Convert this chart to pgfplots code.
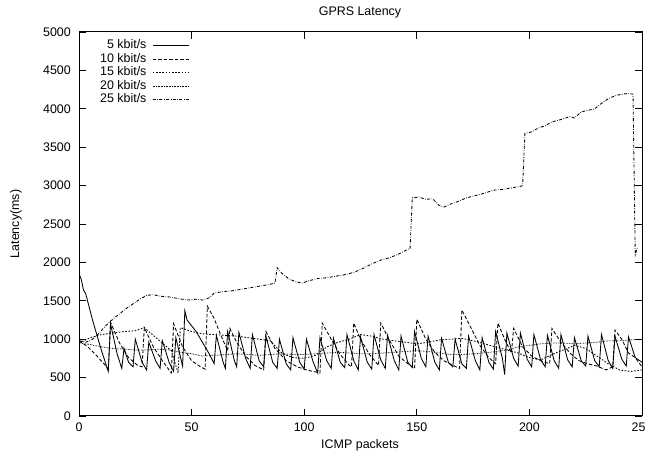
\documentclass[border=0pt]{standalone}
\usepackage{fontspec}
\setmainfont{Liberation Sans}
\usepackage{pgfplots}
\pgfplotsset{compat=1.18}
\begin{document}
\begin{tikzpicture}[x=1bp,y=1bp]
\useasboundingbox (0,0) rectangle (645,455);
\begin{axis}[
  at={(79bp,39bp)}, anchor=south west,
  width=563bp, height=384bp, scale only axis,
  xmin=0, xmax=250, ymin=0, ymax=5000,
  xtick={0,50,100,150,200,250},
  ytick={0,500,1000,1500,2000,2500,3000,3500,4000,4500,5000},
  xtick pos=both, ytick pos=both,
  tick align=inside, major tick length=7bp,
  axis line style={line width=1bp},
  tick style={line width=0.9bp, black},
  /pgf/number format/assume math mode=true,
  /pgf/number format/set thousands separator={},
  ticklabel style={font=\fontsize{12.5}{14}\selectfont},
  yticklabel style={anchor=east, inner sep=0pt, xshift=-8bp},
  xticklabel style={anchor=north, inner sep=0pt, yshift=-7bp},
  every axis plot/.append style={line width=0.85bp, black},
  legend plot pos=right,
  legend cell align=right,
  legend style={at={(0.03,0.988)}, anchor=north west, draw=none, fill=none,
    font=\fontsize{12.5}{13}\selectfont, row sep=0bp, column sep=5bp,
    nodes={inner sep=1bp, text height=9bp, text depth=2.5bp}},
  legend image code/.code={\draw[#1] (0bp,0bp) -- (36bp,0bp);},
]
% 5 kbit/s
\addplot[solid] coordinates {
(0,1850)(1,1780)(2,1640)(3,1590)(6,1250)(10,850)(13,580)(14,1200)(17,800)(19,620)
(20,880)(22,700)(24,640)(25,1000)(28,700)(30,600)(31,960)(34,720)(36,620)(37,980)
(40,700)(42,580)(43,1020)(46,650)(47,1370)(48,1250)(52,1100)(55,950)(58,800)(60,680)
(61,1050)(64,700)(65,620)(66,1100)(69,720)(70,640)(71,1090)(74,750)(76,620)(77,1060)
(80,720)(82,640)(83,1040)(86,700)(88,620)(89,1000)(92,680)(94,600)(95,1020)(98,700)
(100,610)(101,1000)(104,700)(106,560)(107,1020)(110,720)(112,620)(113,1010)(116,700)
(118,630)(119,1060)(122,720)(124,600)(125,1030)(128,700)(130,610)(131,1060)(134,730)
(136,620)(137,1050)(140,720)(142,600)(143,1040)(146,700)(148,630)(149,1100)(152,750)
(154,640)(155,1040)(158,700)(160,600)(161,1010)(164,700)(166,640)(167,1000)(170,680)
(172,620)(173,1040)(176,720)(178,600)(179,1020)(182,700)(184,610)(185,1100)(188,750)
(189,540)(190,1080)(193,750)(195,650)(196,1080)(199,740)(201,640)(202,1060)(205,730)
(207,640)(208,1050)(211,720)(213,620)(214,1060)(217,730)(219,640)(220,1020)(223,720)
(225,650)(226,1040)(229,720)(231,640)(232,1060)(235,720)(237,620)(238,1040)(241,740)
(243,650)(244,1030)(247,760)(250,700)
};
\addlegendentry{5 kbit/s}
% 10 kbit/s
\addplot[dash pattern=on 3.5bp off 2bp] coordinates {
(0,980)(4,900)(8,780)(12,650)(13,600)(14,1220)(18,950)(22,760)(26,660)(28,640)
(29,1150)(33,900)(37,720)(41,560)(42,1200)(46,900)(50,720)(54,640)(56,610)(57,1430)
(60,1270)(63,1050)(66,850)(67,1140)(70,960)(74,780)(78,660)(82,600)(83,1100)(87,880)
(92,720)(97,640)(101,600)(107,560)(108,1210)(112,1000)(116,800)(120,660)(121,640)
(122,1210)(125,1000)(129,800)(133,660)(134,1210)(138,980)(142,780)(146,680)(149,620)
(150,1260)(154,1000)(158,830)(162,720)(166,660)(169,620)(170,1380)(174,1150)(178,920)
(182,760)(185,680)(186,1210)(189,1000)(192,820)(193,1140)(197,900)(201,780)(205,720)
(209,680)(210,1140)(214,960)(218,820)(222,720)(226,680)(230,650)(234,600)(237,640)
(238,1120)(241,1000)(244,820)(247,760)(250,640)
};
\addlegendentry{10 kbit/s}
% 15 kbit/s
\addplot[dash pattern=on 1.6bp off 1.6bp] coordinates {
(0,950)(5,1020)(10,1060)(15,1080)(20,1100)(25,1110)(29,1150)(33,1050)(37,950)(41,850)
(44,560)(45,1150)(50,1100)(55,1070)(60,1060)(65,1050)(70,1040)(75,1020)(80,1000)
(85,980)(90,820)(95,760)(100,750)(105,790)(110,900)(115,960)(120,1000)(125,1060)
(130,1040)(135,1000)(140,980)(145,960)(150,940)(155,960)(160,990)(165,1000)(170,1010)
(175,980)(180,940)(185,900)(190,860)(195,820)(200,760)(205,730)(210,800)(215,860)
(220,920)(225,880)(230,780)(235,680)(240,600)(245,580)(250,600)
};
\addlegendentry{15 kbit/s}
% 20 kbit/s
\addplot[dash pattern=on 0.6bp off 1bp] coordinates {
(0,950)(5,930)(10,900)(15,880)(20,870)(25,860)(30,860)(35,870)(40,860)(45,830)
(50,810)(55,780)(60,790)(65,800)(70,810)(75,800)(80,790)(85,800)(90,810)(95,800)
(100,800)(105,810)(110,820)(115,830)(120,820)(125,810)(130,810)(135,820)(140,830)
(145,840)(150,850)(155,840)(160,820)(165,800)(170,800)(175,810)(180,820)(185,840)
(190,860)(195,900)(200,920)(205,940)(210,950)(215,950)(220,940)(225,950)(230,960)
(235,980)(240,980)(245,990)(250,1000)
};
\addlegendentry{20 kbit/s}
% 25 kbit/s
\addplot[dash pattern=on 3bp off 1.5bp on 0.6bp off 1.5bp] coordinates {
(0,980)(3,960)(6,1000)(9,1080)(12,1180)(15,1260)(18,1330)(21,1400)(24,1460)(27,1520)
(30,1570)(33,1580)(36,1560)(40,1550)(44,1530)(48,1510)(52,1520)(55,1510)(58,1540)
(60,1600)(64,1620)(68,1630)(72,1650)(76,1670)(80,1690)(84,1710)(87,1730)(88,1930)
(90,1860)(93,1790)(96,1750)(99,1730)(102,1760)(106,1790)(110,1800)(114,1820)(118,1840)
(122,1870)(126,1920)(130,1980)(134,2030)(138,2060)(142,2110)(146,2170)(147,2180)
(148,2840)(151,2850)(154,2820)(157,2830)(160,2740)(162,2720)(165,2760)(168,2790)
(172,2840)(176,2870)(180,2900)(184,2940)(188,2950)(192,2970)(196,2990)(197,3000)
(198,3680)(201,3700)(204,3750)(207,3780)(210,3830)(214,3860)(218,3900)(220,3880)
(223,3960)(226,3980)(229,4000)(232,4070)(235,4130)(238,4170)(241,4190)(244,4200)
(246,4190)(247,2100)(248,2200)
};
\addlegendentry{25 kbit/s}
\end{axis}
\node[font=\fontsize{12.5}{14}\selectfont] at (360,443) {GPRS Latency};
\node[font=\fontsize{12.5}{14}\selectfont] at (360,10) {ICMP packets};
\node[font=\fontsize{12.5}{14}\selectfont, rotate=90] at (16,231) {Latency(ms)};
\end{tikzpicture}
\end{document}
